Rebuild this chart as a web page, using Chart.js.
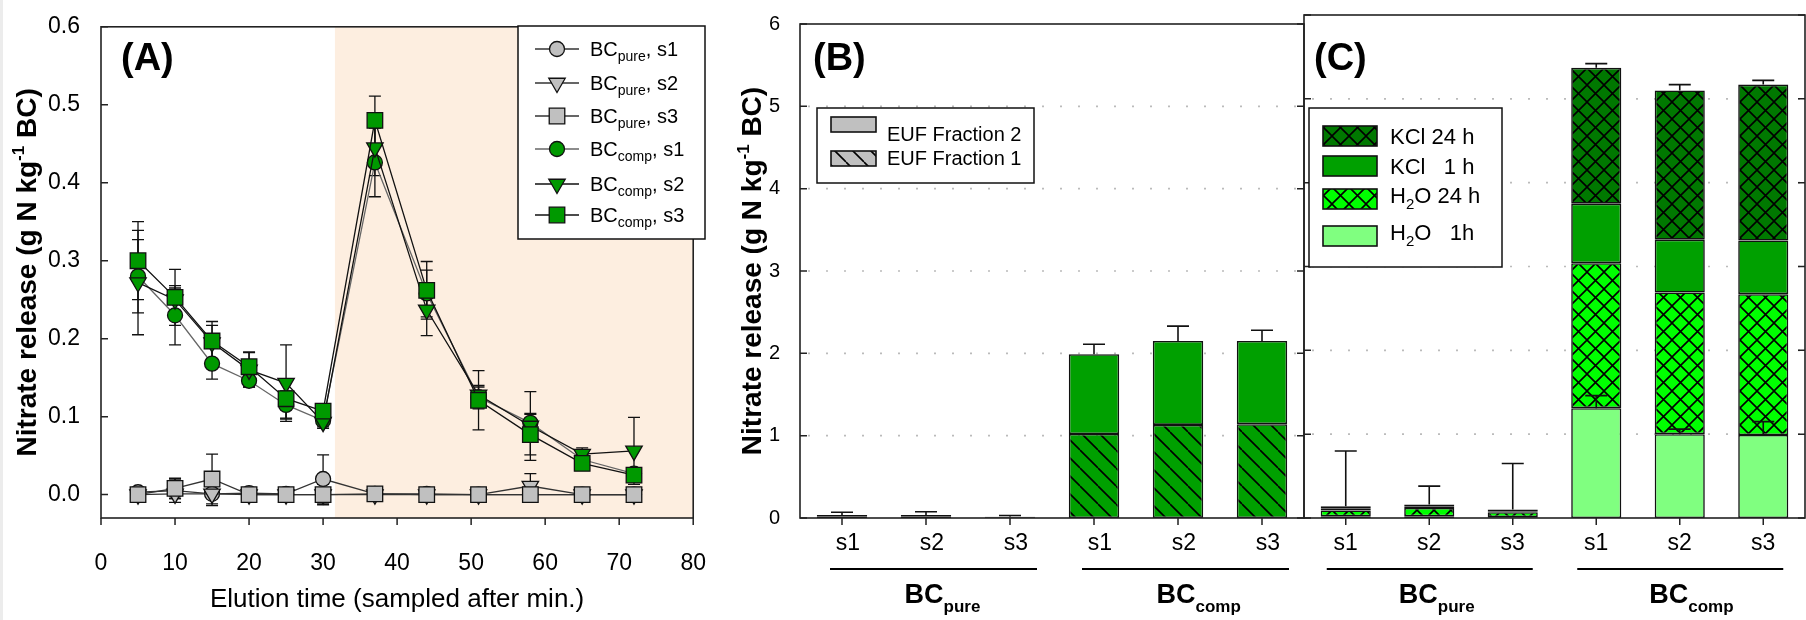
<!DOCTYPE html>
<html>
<head>
<meta charset="utf-8">
<script src="https://cdn.jsdelivr.net/npm/chart.js@4.4.1/dist/chart.umd.min.js"></script>
<style>
  html, body { margin: 0; padding: 0; background: #fff; }
  #wrap { position: relative; width: 1806px; height: 620px; overflow: hidden; background: #fff; }
  #wrap canvas { position: absolute; top: 0; }
  #edge { position: absolute; left: 0; top: 0; width: 3px; height: 620px; background: #ececec; }
</style>
</head>
<body>
<div id="wrap">
  <canvas id="chartA" width="730" height="620" style="left:0px"></canvas>
  <canvas id="chartB" width="590" height="620" style="left:720px"></canvas>
  <canvas id="chartC" width="508" height="620" style="left:1298px"></canvas>
  <div id="edge"></div>
</div>
<script>
// ---- panel A : elution curves ----
const elutionTimes = [5, 10, 15, 20, 25, 30, 37, 44, 51, 58, 65, 72];
const pureS1 = [0.003, 0.005, 0.001, 0.002, 0.001, 0.020, 0.001, 0.001, 0.000, 0.000, 0.000, 0.000];
const pureS1Err = [0.002, 0.015, 0.003, 0.003, 0.002, 0.031, 0.002, 0.002, 0.002, 0.002, 0.002, 0.002];
const pureS2 = [0.000, 0.001, 0.001, 0.000, 0.000, 0.000, 0.000, 0.000, 0.000, 0.011, 0.000, 0.000];
const pureS2Err = [0.002, 0.006, 0.015, 0.003, 0.002, 0.013, 0.003, 0.003, 0.003, 0.016, 0.003, 0.003];
const pureS3 = [0.000, 0.008, 0.020, 0.000, 0.000, 0.000, 0.001, 0.000, 0.000, 0.000, 0.000, 0.000];
const pureS3Err = [0.001, 0.013, 0.032, 0.002, 0.002, 0.002, 0.002, 0.002, 0.002, 0.002, 0.002, 0.002];
const compS1 = [0.280, 0.230, 0.168, 0.146, 0.115, 0.095, 0.426, 0.258, 0.125, 0.092, 0.045, 0.027];
const compS1Err = [0.047, 0.038, 0.020, 0.008, 0.018, 0.008, 0.044, 0.030, 0.015, 0.012, 0.006, 0.005];
const compS2 = [0.272, 0.250, 0.195, 0.160, 0.143, 0.093, 0.445, 0.237, 0.128, 0.088, 0.052, 0.056];
const compS2Err = [0.067, 0.015, 0.022, 0.022, 0.049, 0.008, 0.036, 0.033, 0.010, 0.044, 0.008, 0.043];
const compS3 = [0.300, 0.253, 0.197, 0.164, 0.123, 0.107, 0.480, 0.262, 0.121, 0.077, 0.040, 0.025];
const compS3Err = [0.050, 0.036, 0.025, 0.019, 0.025, 0.004, 0.031, 0.037, 0.038, 0.026, 0.005, 0.006];
const xTicksA = [0, 10, 20, 30, 40, 50, 60, 70, 80];
const yTicksA = [0, 0.1, 0.2, 0.3, 0.4, 0.5, 0.6];
const eluateStart = 31.6;   // start of the shaded phase (min)

// ---- panels B and C : stacked bars ----
const sampleLabels = ['s1', 's2', 's3', 's1', 's2', 's3'];
const sampleGroup = [0, 0, 0, 1, 1, 1];
const groupNames = [['BC', 'pure'], ['BC', 'comp']];
const eufFraction1 = [0.020, 0.020, 0.010, 1.02, 1.13, 1.14];
const eufFraction2 = [0.016, 0.016, 0.006, 0.97, 1.02, 1.01];
const eufErr = [0.034, 0.040, 0.014, 0.12, 0.18, 0.13];
const h2o1h = [0.02, 0.02, 0.01, 1.31, 1.00, 0.99];
const h2o24h = [0.07, 0.10, 0.06, 1.73, 1.69, 1.68];
const kcl1h = [0.02, 0.02, 0.01, 0.71, 0.63, 0.64];
const kcl24h = [0.03, 0.02, 0.02, 1.62, 1.78, 1.86];
const h2o1hErr = [0, 0, 0, 0.15, 0.06, 0.16];
const totalErrC = [0.66, 0.22, 0.55, 0.05, 0.07, 0.05];
const yTicksBC = [0, 1, 2, 3, 4, 5, 6];

const FONT = "'Liberation Sans', Arial, Helvetica, sans-serif";
const GREY = '#c0c0c0';
const GREEN = '#009900';
const BAR_GREEN = '#00a000';
const DARK_GREEN = '#007800';
const BRIGHT_GREEN = '#00ff00';
const LIGHT_GREEN = '#80ff80';
const SHADE = '#fdeee0';
const AXIS = '#222';

Chart.defaults.font.family = FONT;
Chart.defaults.color = '#000';

function font(px, bold) { return (bold ? 'bold ' : '') + px + 'px ' + FONT; }

// pieces: [text, size, bold, dy]
function richText(ctx, x, y, pieces, align) {
  let w = 0;
  pieces.forEach(p => { ctx.font = font(p[1], p[2]); w += ctx.measureText(p[0]).width; });
  let cx = align === 'center' ? x - w / 2 : x;
  ctx.textAlign = 'left';
  ctx.textBaseline = 'alphabetic';
  pieces.forEach(p => {
    ctx.font = font(p[1], p[2]);
    ctx.fillText(p[0], cx, y + (p[3] || 0));
    cx += ctx.measureText(p[0]).width;
  });
}

function yTitle(ctx, x, cy) {
  ctx.save();
  ctx.translate(x, cy);
  ctx.rotate(-Math.PI / 2);
  ctx.fillStyle = '#000';
  richText(ctx, 0, 0, [['Nitrate release (g N kg', 28, true], ['-1', 17, true, -12], [' BC)', 28, true]], 'center');
  ctx.restore();
}

function tile(bg, kind, size) {
  const c = document.createElement('canvas');
  c.width = c.height = size;
  const g = c.getContext('2d');
  g.fillStyle = bg;
  g.fillRect(0, 0, size, size);
  g.strokeStyle = '#000';
  g.lineWidth = 1.6;
  g.beginPath();
  for (const k of [-size, 0, size]) {
    if (kind === 'back' || kind === 'cross') { g.moveTo(k, 0); g.lineTo(k + size, size); }
    if (kind === 'cross') { g.moveTo(k + size, 0); g.lineTo(k, size); }
  }
  g.stroke();
  return g.createPattern(c, 'repeat');
}

function drawMarker(ctx, style, x, y, r, fill) {
  ctx.save();
  ctx.fillStyle = fill;
  ctx.strokeStyle = '#111';
  ctx.lineWidth = 1.3;
  ctx.beginPath();
  if (style === 'circle') ctx.arc(x, y, r, 0, Math.PI * 2);
  else if (style === 'rect') { const s = r * Math.SQRT1_2; ctx.rect(x - s, y - s, 2 * s, 2 * s); }
  else {
    const h = r * Math.sin(Math.PI / 3);
    ctx.moveTo(x - h, y - r / 2); ctx.lineTo(x + h, y - r / 2); ctx.lineTo(x, y + r); ctx.closePath();
  }
  ctx.fill();
  ctx.stroke();
  ctx.restore();
}

function frame(ctx, a) {
  ctx.save();
  ctx.strokeStyle = AXIS;
  ctx.lineWidth = 1.6;
  ctx.strokeRect(a.left, a.top, a.right - a.left, a.bottom - a.top);
  ctx.restore();
}

// ================= Panel A =================
const radius = { circle: 7.5, triangle: 9.5, rect: 11 };
function series(parts, data, err, style, fill, lineColor, order) {
  return {
    label: parts.join(''),
    parts: parts,
    data: elutionTimes.map((t, i) => ({ x: t, y: data[i] })),
    err: err,
    pointStyle: style,
    pointRotation: style === 'triangle' ? 180 : 0,
    pointRadius: radius[style],
    pointBackgroundColor: fill,
    pointBorderColor: '#111',
    pointBorderWidth: 1.3,
    borderColor: lineColor,
    borderWidth: 1.3,
    tension: 0,
    fill: false,
    clip: false,
    order: order
  };
}

const panelA = {
  id: 'panelA',
  beforeDraw(chart) {
    const { ctx, chartArea: a, scales: { x } } = chart;
    const x0 = x.getPixelForValue(eluateStart);
    ctx.save();
    ctx.fillStyle = SHADE;
    ctx.fillRect(x0, a.top, a.right - x0, a.bottom - a.top);
    ctx.restore();
  },
  beforeDatasetsDraw(chart) {
    const { ctx, scales: { x, y } } = chart;
    ctx.save();
    ctx.strokeStyle = '#111';
    ctx.lineWidth = 1.3;
    chart.data.datasets.forEach(ds => {
      ds.data.forEach((p, i) => {
        const e = ds.err[i];
        if (!e) return;
        const px = x.getPixelForValue(p.x);
        const y1 = y.getPixelForValue(p.y - e), y2 = y.getPixelForValue(p.y + e);
        ctx.beginPath();
        ctx.moveTo(px, y1); ctx.lineTo(px, y2);
        ctx.moveTo(px - 6, y1); ctx.lineTo(px + 6, y1);
        ctx.moveTo(px - 6, y2); ctx.lineTo(px + 6, y2);
        ctx.stroke();
      });
    });
    ctx.restore();
  },
  afterDraw(chart) {
    const { ctx, chartArea: a, scales: { x, y } } = chart;
    frame(ctx, a);
    ctx.save();
    ctx.strokeStyle = AXIS;
    ctx.lineWidth = 1.5;
    ctx.beginPath();
    yTicksA.forEach(v => { const py = y.getPixelForValue(v); ctx.moveTo(a.left, py); ctx.lineTo(a.left + 7, py); });
    xTicksA.forEach(v => { const px = x.getPixelForValue(v); ctx.moveTo(px, a.bottom); ctx.lineTo(px, a.bottom + 7); });
    ctx.stroke();

    ctx.fillStyle = '#000';
    ctx.font = font(38, true);
    ctx.textAlign = 'left';
    ctx.textBaseline = 'alphabetic';
    ctx.fillText('(A)', a.left + 20, 70);

    ctx.font = font(26, false);
    ctx.textAlign = 'center';
    ctx.fillText('Elution time (sampled after min.)', (a.left + a.right) / 2, 607);
    yTitle(ctx, 36, (a.top + a.bottom) / 2);

    // legend
    const lx = 518, ly = 26, lw = 187, lh = 213;
    const rows = [49, 83, 116, 149, 184, 215];
    ctx.fillStyle = '#fff';
    ctx.fillRect(lx, ly, lw, lh);
    ctx.strokeStyle = '#111';
    ctx.lineWidth = 1.5;
    ctx.strokeRect(lx, ly, lw, lh);
    chart.data.datasets.forEach((ds, i) => {
      const ry = rows[i];
      ctx.strokeStyle = ds.borderColor;
      ctx.lineWidth = 1.3;
      ctx.beginPath(); ctx.moveTo(lx + 17, ry); ctx.lineTo(lx + 61, ry); ctx.stroke();
      drawMarker(ctx, ds.pointStyle, lx + 39, ry, ds.pointRadius, ds.pointBackgroundColor);
      ctx.fillStyle = '#000';
      richText(ctx, lx + 72, ry + 7, [[ds.parts[0], 20, false], [ds.parts[1], 14, false, 5], [ds.parts[2], 20, false]], 'left');
    });
    ctx.restore();
  }
};

new Chart(document.getElementById('chartA'), {
  type: 'line',
  data: {
    datasets: [
      series(['BC', 'pure', ', s1'], pureS1, pureS1Err, 'circle', GREY, '#333', 5),
      series(['BC', 'pure', ', s2'], pureS2, pureS2Err, 'triangle', GREY, '#333', 4),
      series(['BC', 'pure', ', s3'], pureS3, pureS3Err, 'rect', GREY, '#333', 3),
      series(['BC', 'comp', ', s1'], compS1, compS1Err, 'circle', GREEN, '#666', 2),
      series(['BC', 'comp', ', s2'], compS2, compS2Err, 'triangle', GREEN, '#111', 1),
      series(['BC', 'comp', ', s3'], compS3, compS3Err, 'rect', GREEN, '#111', 0)
    ]
  },
  options: {
    responsive: false,
    animation: false,
    layout: { padding: { top: 15, right: 15, left: 0, bottom: 0 } },
    plugins: { legend: { display: false }, tooltip: { enabled: false } },
    scales: {
      x: {
        type: 'linear', min: 0, max: 80,
        afterBuildTicks: s => { s.ticks = xTicksA.map(v => ({ value: v })); },
        afterFit: s => { s.height = 102; },
        grid: { display: false }, border: { display: false },
        ticks: { font: { size: 23 }, padding: 24, autoSkip: false, maxRotation: 0 }
      },
      y: {
        min: -0.03, max: 0.6,
        afterBuildTicks: s => { s.ticks = yTicksA.map(v => ({ value: v })); },
        afterFit: s => { s.width = 101; },
        grid: { display: false }, border: { display: false },
        ticks: { font: { size: 23 }, padding: 13, callback: v => v.toFixed(1) }
      }
    }
  },
  plugins: [panelA]
});

// ================= Panels B and C =================
function barPanel(cfg) {
  return {
    id: 'panel' + cfg.letter,
    beforeDatasetsDraw(chart) {
      const { ctx, chartArea: a, scales: { y } } = chart;
      ctx.save();
      ctx.strokeStyle = '#bbb';
      ctx.lineWidth = 1.6;
      ctx.setLineDash([2, 16]);
      yTicksBC.slice(1, -1).forEach(v => {
        const py = y.getPixelForValue(v);
        ctx.beginPath(); ctx.moveTo(a.left + 8, py); ctx.lineTo(a.right, py); ctx.stroke();
      });
      ctx.restore();
    },
    afterDatasetsDraw(chart) {
      const { ctx, scales: { x, y } } = chart;
      const sets = chart.data.datasets;
      ctx.save();
      ctx.strokeStyle = '#111';
      ctx.lineWidth = 1.6;
      cfg.errors.forEach(spec => {
        sampleLabels.forEach((_, i) => {
          const e = spec.err[i];
          if (!e) return;
          let base = 0;
          for (let k = 0; k <= spec.upTo; k++) base += sets[k].data[i];
          const px = x.getPixelForValue(i);
          const y1 = y.getPixelForValue(base), y2 = y.getPixelForValue(base + e);
          ctx.beginPath();
          ctx.moveTo(px, y1); ctx.lineTo(px, y2);
          ctx.moveTo(px - 11, y2); ctx.lineTo(px + 11, y2);
          ctx.stroke();
        });
      });
      ctx.restore();
    },
    afterDraw(chart) {
      const { ctx, chartArea: a, scales: { x, y } } = chart;
      frame(ctx, a);
      ctx.save();
      ctx.strokeStyle = AXIS;
      ctx.lineWidth = 1.5;
      ctx.beginPath();
      yTicksBC.forEach(v => {
        const py = y.getPixelForValue(v);
        ctx.moveTo(a.left, py); ctx.lineTo(a.left + 7, py);
        ctx.moveTo(a.right, py); ctx.lineTo(a.right - 7, py);
      });
      sampleLabels.forEach((_, i) => { const px = x.getPixelForValue(i); ctx.moveTo(px, a.bottom); ctx.lineTo(px, a.bottom + 7); });
      ctx.stroke();

      // group underlines and names
      ctx.fillStyle = '#000';
      ctx.strokeStyle = '#000';
      ctx.lineWidth = 2;
      groupNames.forEach((name, g) => {
        const idx = sampleGroup.map((s, i) => s === g ? i : -1).filter(i => i >= 0);
        const x0 = x.getPixelForValue(idx[0]), x1 = x.getPixelForValue(idx[idx.length - 1]);
        ctx.beginPath();
        ctx.moveTo(x0 + cfg.lineFrom, 569); ctx.lineTo(x1 + cfg.lineTo, 569);
        ctx.stroke();
        ctx.font = font(27, true);
        const bw = ctx.measureText(name[0]).width;
        richText(ctx, (x0 + x1) / 2 + cfg.nameShift - bw / 2, 603, [[name[0], 27, true], [name[1], 17, true, 9]], 'left');
      });

      ctx.font = font(38, true);
      ctx.textAlign = 'left';
      ctx.fillText('(' + cfg.letter + ')', a.left + cfg.letterX, 70);

      if (cfg.title) yTitle(ctx, 41, (a.top + a.bottom) / 2);

      // legend
      const L = cfg.legend;
      ctx.fillStyle = '#fff';
      ctx.fillRect(a.left + L.x, L.y, L.w, L.h);
      ctx.strokeStyle = '#111';
      ctx.lineWidth = 1.5;
      ctx.strokeRect(a.left + L.x, L.y, L.w, L.h);
      L.items.forEach(it => {
        ctx.fillStyle = it.fill;
        ctx.fillRect(a.left + L.sx, it.sy, L.sw, L.sh);
        ctx.lineWidth = 1.6;
        ctx.strokeRect(a.left + L.sx, it.sy, L.sw, L.sh);
        ctx.fillStyle = '#000';
        richText(ctx, a.left + L.tx, it.ty, it.text, 'left');
      });
      ctx.restore();
    }
  };
}

function bars(label, data, fill) {
  return {
    label: label, data: data, backgroundColor: fill,
    borderColor: '#111', borderWidth: 1.6, borderSkipped: false,
    barPercentage: 0.6, categoryPercentage: 1.0
  };
}

function barOptions(yWidth, padRight, showY, labelOffset) {
  return {
    responsive: false,
    animation: false,
    layout: { padding: { top: 15, right: padRight, left: 0, bottom: 0 } },
    plugins: { legend: { display: false }, tooltip: { enabled: false } },
    scales: {
      x: {
        stacked: true,
        afterFit: s => { s.height = 102; },
        grid: { display: false }, border: { display: false },
        ticks: { font: { size: 23 }, padding: 4, autoSkip: false, maxRotation: 0, labelOffset: labelOffset }
      },
      y: {
        stacked: true, min: 0, max: 6,
        afterBuildTicks: s => { s.ticks = yTicksBC.map(v => ({ value: v })); },
        afterFit: s => { s.width = yWidth; },
        grid: { display: false }, border: { display: false },
        ticks: { display: showY, font: { size: 20 }, padding: 12 }
      }
    }
  };
}

const hatchGrey = tile(GREY, 'back', 18);
const hatchGreen = tile(BAR_GREEN, 'back', 18);
const crossBright = tile(BRIGHT_GREEN, 'cross', 17);
const crossDark = tile(DARK_GREEN, 'cross', 17);

new Chart(document.getElementById('chartB'), {
  type: 'bar',
  data: {
    labels: sampleLabels,
    datasets: [
      bars('EUF Fraction 1', eufFraction1, sampleGroup.map(g => g === 0 ? hatchGrey : hatchGreen)),
      bars('EUF Fraction 2', eufFraction2, sampleGroup.map(g => g === 0 ? GREY : BAR_GREEN))
    ]
  },
  options: barOptions(80, 6, true, 6),
  plugins: [barPanel({
    letter: 'B', letterX: 13, title: true, lineFrom: -12, lineTo: 27, nameShift: -2,
    errors: [{ upTo: 1, err: eufErr }],
    legend: {
      x: 17, y: 108, w: 217, h: 75, sx: 31, sw: 45, sh: 15, tx: 87,
      items: [
        { fill: GREY, sy: 117, ty: 141, text: [['EUF Fraction 2', 20, false]] },
        { fill: hatchGrey, sy: 151, ty: 165, text: [['EUF Fraction 1', 20, false]] }
      ]
    }
  })]
});

new Chart(document.getElementById('chartC'), {
  type: 'bar',
  data: {
    labels: sampleLabels,
    datasets: [
      bars('H2O 1h', h2o1h, LIGHT_GREEN),
      bars('H2O 24 h', h2o24h, crossBright),
      bars('KCl 1 h', kcl1h, BAR_GREEN),
      bars('KCl 24 h', kcl24h, crossDark)
    ]
  },
  options: barOptions(6, 1, false, 0),
  plugins: [barPanel({
    letter: 'C', letterX: 10, title: false, lineFrom: -19, lineTo: 20, nameShift: -11,
    errors: [{ upTo: 0, err: h2o1hErr }, { upTo: 3, err: totalErrC }],
    legend: {
      x: 5, y: 108, w: 193, h: 159, sx: 19, sw: 54, sh: 20, tx: 86,
      items: [
        { fill: crossDark, sy: 126, ty: 144, text: [['KCl 24 h', 22, false]] },
        { fill: BAR_GREEN, sy: 156, ty: 174, text: [['KCl   1 h', 22, false]] },
        { fill: crossBright, sy: 189, ty: 203, text: [['H', 22, false], ['2', 15, false, 6], ['O 24 h', 22, false]] },
        { fill: LIGHT_GREEN, sy: 226, ty: 240, text: [['H', 22, false], ['2', 15, false, 6], ['O   1h', 22, false]] }
      ]
    }
  })]
});
</script>
</body>
</html>
